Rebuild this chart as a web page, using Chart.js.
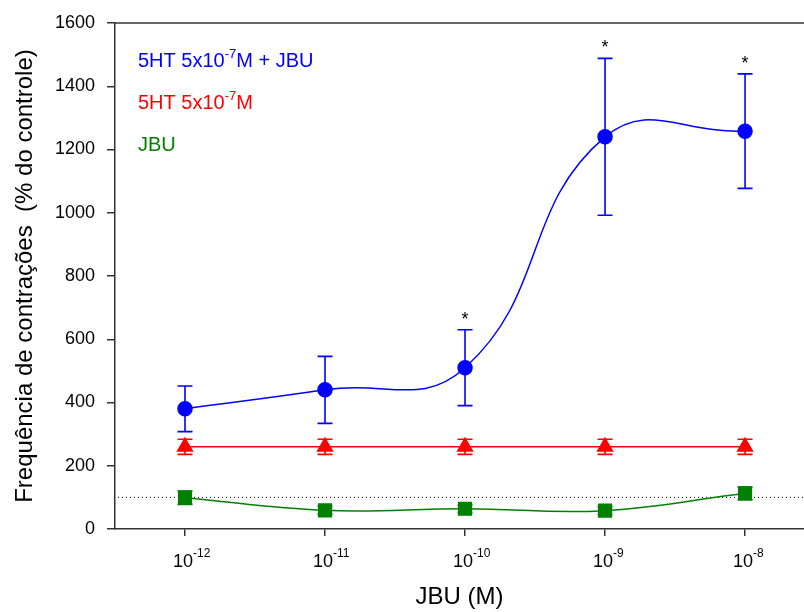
<!DOCTYPE html>
<html lang="pt-BR">
<head>
  <meta charset="UTF-8">
  <title>Frequência de contrações - JBU</title>
  <script src="https://cdn.jsdelivr.net/npm/chart.js"></script>
  <style>
    html, body { margin: 0; padding: 0; background: #fff; overflow: hidden; }
  </style>
</head>
<body>
  <canvas id="grafico" width="804" height="612"></canvas>

  <script>
    // concentrações de JBU (expoente de 10, em M)
    const expoentes = [-12, -11, -10, -9, -8];
    const rotulosX = ['-12', '-11', '-10', '-9', '-8'];

    // 5HT 5x10-7M + JBU
    const serotJbu = [380, 440, 510, 1240, 1258];
    const serotJbuErro = [72, 106, 120, 248, 181];
    const asteriscos = [false, false, true, true, true];

    // 5HT 5x10-7M sozinho
    const serot = [260, 260, 260, 260, 260];
    const serotErro = [24, 24, 24, 24, 24];

    // JBU sozinho
    const jbu = [99, 59, 64, 58, 113];
    const jbuErro = [21, 12, 12, 12, 20];

    const controle = 100;

    const legendas = [
      { base: '5HT 5x10', sup: '-7', resto: 'M + JBU', cor: '#0000ff' },
      { base: '5HT 5x10', sup: '-7', resto: 'M', cor: '#ff0000' },
      { base: 'JBU', sup: '', resto: '', cor: '#008000' }
    ];

    const fonte = "'Liberation Sans', Arial, sans-serif";
    Chart.defaults.font.family = fonte;
    Chart.defaults.color = '#000';

    const pontos = arr => expoentes.map((e, i) => ({ x: e, y: arr[i] }));

    const extras = {
      id: 'extras',
      beforeDatasetsDraw(chart) {
        const { ctx, chartArea, scales: { y } } = chart;
        // linha pontilhada do controle (100%)
        const py = y.getPixelForValue(controle);
        ctx.save();
        ctx.strokeStyle = '#000';
        ctx.lineWidth = 1;
        ctx.setLineDash([1, 3]);
        ctx.beginPath();
        ctx.moveTo(chartArea.left + 3, py);
        ctx.lineTo(chartArea.right, py);
        ctx.stroke();
        ctx.restore();
      },
      afterDatasetsDraw(chart) {
        const { ctx, scales: { x, y } } = chart;
        ctx.save();
        chart.data.datasets.forEach(ds => {
          ctx.strokeStyle = ds.borderColor;
          ctx.lineWidth = 1.6;
          ds.erros.forEach((e, i) => {
            const px = x.getPixelForValue(expoentes[i]);
            const topo = y.getPixelForValue(ds.valores[i] + e);
            const base = y.getPixelForValue(ds.valores[i] - e);
            ctx.beginPath();
            ctx.moveTo(px, topo); ctx.lineTo(px, base);
            ctx.moveTo(px - 7.5, topo); ctx.lineTo(px + 7.5, topo);
            ctx.moveTo(px - 7.5, base); ctx.lineTo(px + 7.5, base);
            ctx.stroke();
          });
        });
        // asteriscos de significância
        ctx.fillStyle = '#000';
        ctx.font = '18px ' + fonte;
        ctx.textAlign = 'center';
        ctx.textBaseline = 'alphabetic';
        asteriscos.forEach((s, i) => {
          if (!s) return;
          const px = x.getPixelForValue(expoentes[i]);
          const topo = y.getPixelForValue(serotJbu[i] + serotJbuErro[i]);
          ctx.fillText('*', px, topo - 5);
        });
        ctx.restore();
      },
      afterDraw(chart) {
        const { ctx, chartArea, scales: { x } } = chart;
        ctx.save();
        // borda superior
        ctx.strokeStyle = '#333';
        ctx.lineWidth = 1.5;
        ctx.beginPath();
        ctx.moveTo(chartArea.left, chartArea.top);
        ctx.lineTo(chartArea.right, chartArea.top);
        ctx.stroke();

        // rótulos do eixo x: 10 com expoente
        ctx.fillStyle = '#000';
        ctx.textBaseline = 'alphabetic';
        expoentes.forEach((e, i) => {
          const px = x.getPixelForValue(e) - 2;
          ctx.font = '18px ' + fonte;
          ctx.textAlign = 'center';
          const w = ctx.measureText('10').width;
          ctx.fillText('10', px, chartArea.bottom + 38);
          ctx.font = '12px ' + fonte;
          ctx.textAlign = 'left';
          ctx.fillText(rotulosX[i], px + w / 2, chartArea.bottom + 28);
        });

        // legenda em texto colorido
        legendas.forEach((l, i) => {
          let px = chartArea.left + 23;
          const py = chartArea.top + 44 + i * 42;
          ctx.fillStyle = l.cor;
          ctx.textAlign = 'left';
          ctx.font = '20px ' + fonte;
          ctx.fillText(l.base, px, py);
          px += ctx.measureText(l.base).width;
          if (l.sup) {
            ctx.font = '13px ' + fonte;
            ctx.fillText(l.sup, px, py - 9);
            px += ctx.measureText(l.sup).width;
          }
          ctx.font = '20px ' + fonte;
          ctx.fillText(l.resto, px, py);
        });
        ctx.restore();
      }
    };

    new Chart(document.getElementById('grafico'), {
      type: 'line',
      data: {
        datasets: [
          {
            label: '5HT 5x10-7M + JBU',
            data: pontos(serotJbu),
            valores: serotJbu,
            erros: serotJbuErro,
            borderColor: '#0000ff',
            backgroundColor: '#0000ff',
            borderWidth: 1.5,
            tension: 0.45,
            pointStyle: 'circle',
            pointRadius: 7
          },
          {
            label: '5HT 5x10-7M',
            data: pontos(serot),
            valores: serot,
            erros: serotErro,
            borderColor: '#ff0000',
            backgroundColor: '#ff0000',
            borderWidth: 1.5,
            tension: 0,
            pointStyle: 'triangle',
            pointRadius: 8.5
          },
          {
            label: 'JBU',
            data: pontos(jbu),
            valores: jbu,
            erros: jbuErro,
            borderColor: '#008000',
            backgroundColor: '#008000',
            borderWidth: 1.5,
            tension: 0.4,
            pointStyle: 'rect',
            pointRadius: 9
          }
        ]
      },
      options: {
        responsive: false,
        animation: false,
        layout: { autoPadding: false, padding: { top: 23, right: 0, left: 0, bottom: 0 } },
        plugins: {
          legend: { display: false },
          tooltip: { enabled: false }
        },
        scales: {
          x: {
            type: 'linear',
            min: -12.5,
            max: -7.579,
            afterBuildTicks: s => { s.ticks = expoentes.map(v => ({ value: v })); },
            afterFit: s => { s.height = 83; },
            ticks: { display: false },
            grid: { drawOnChartArea: false, drawTicks: true, tickLength: 7, color: '#333', lineWidth: 1.5 },
            border: { display: true, color: '#333', width: 1.5 },
            title: {
              display: true,
              text: 'JBU (M)',
              font: { size: 24 },
              padding: { top: 0, bottom: 0 }
            }
          },
          y: {
            min: 0,
            max: 1600,
            afterFit: s => { s.width = 115; },
            ticks: { stepSize: 200, font: { size: 18 }, padding: 12, color: '#000', callback: v => String(v) },
            grid: { drawOnChartArea: false, drawTicks: true, tickLength: 8, color: '#333', lineWidth: 1.5 },
            border: { display: true, color: '#333', width: 1.5 },
            title: {
              display: true,
              text: 'Frequência de contrações  (% do controle)',
              font: { size: 24 },
              padding: { top: 11, bottom: 0 }
            }
          }
        }
      },
      plugins: [extras]
    });
  </script>
</body>
</html>
